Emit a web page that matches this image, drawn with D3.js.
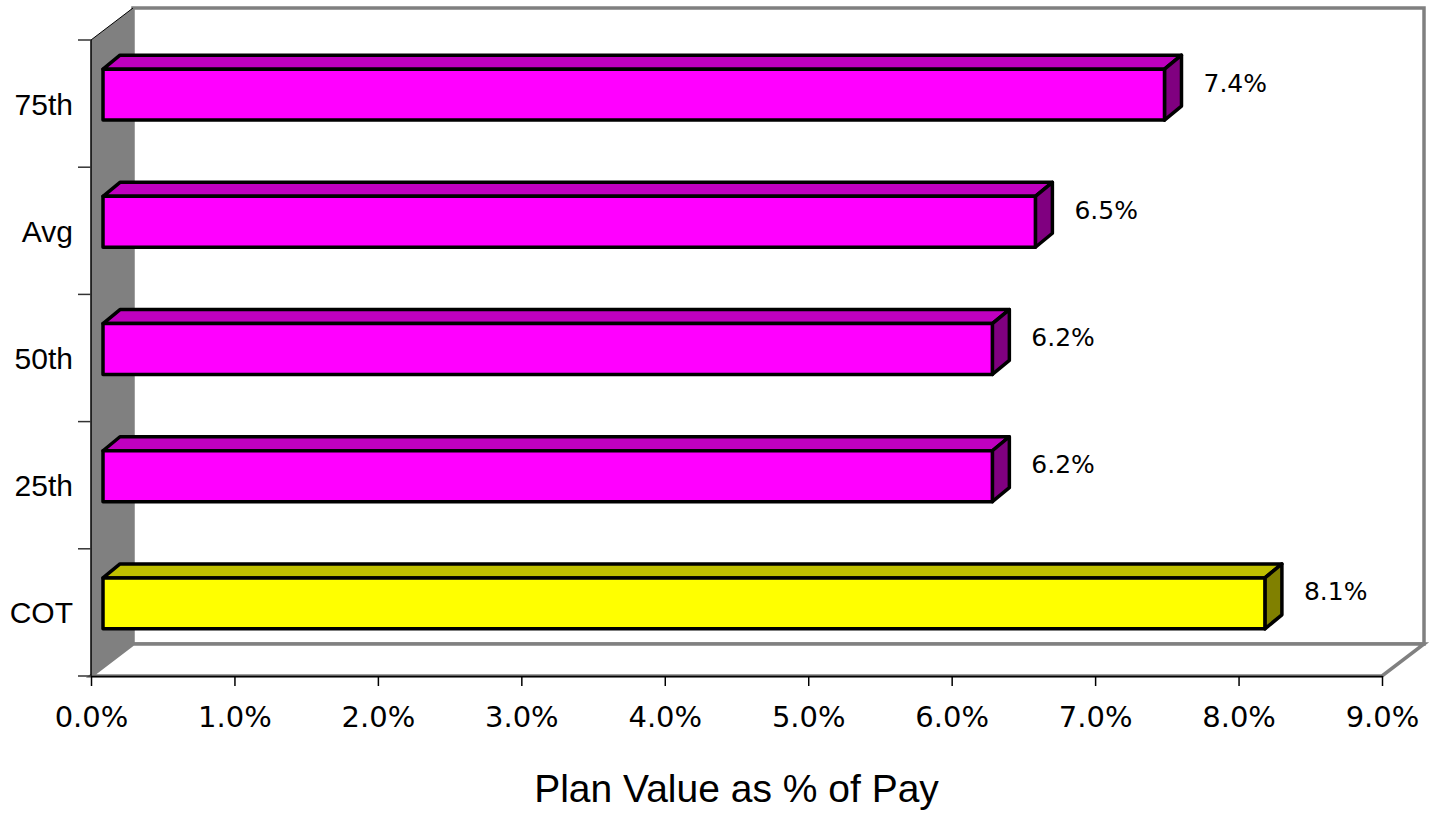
<!DOCTYPE html>
<html>
<head>
<meta charset="utf-8">
<script src="https://cdn.jsdelivr.net/npm/d3@7"></script>
<style>
  html, body { margin: 0; padding: 0; background: #ffffff; }
  svg { display: block; }
</style>
</head>
<body>
<svg id="chart" width="1430" height="815"></svg>
<script>
// Plan value as a percentage of pay, by peer-group statistic
const categories = ["75th", "Avg", "50th", "25th", "COT"];
const values = [7.4, 6.5, 6.2, 6.2, 8.1];
const barColors = ["magenta", "magenta", "magenta", "magenta", "yellow"];
const xTicks = [0, 1, 2, 3, 4, 5, 6, 7, 8, 9];
const xTitle = "Plan Value as % of Pay";

// face shades for each base colour: front, top, side
const shades = {
  magenta: { front: "#ff00ff", top: "#bf00bf", side: "#800080" },
  yellow:  { front: "#ffff00", top: "#bfbf00", side: "#808000" }
};

const svg = d3.select("#chart");

// front plane of the 3-D box
const plotLeft = 91, plotRight = 1382, plotTop = 40, plotBottom = 676;
// depth of the box (receding up and to the right)
const depth = { dx: 42, dy: -32 };
// bars sit partway into the box and have their own depth
const barShift = { dx: 12, dy: -9 };
const barDepth = { dx: 17, dy: -14 };

const x = d3.scaleLinear().domain([0, 9]).range([plotLeft, plotRight]);
const y = d3.scaleBand().domain(categories).range([plotTop, plotBottom])
  .paddingInner(0.6).paddingOuter(0.3);
const yb = d3.scaleBand().domain(categories).range([plotTop, plotBottom]).padding(0);

const wallGrey = "#808080";

// back wall
svg.append("rect")
  .attr("x", plotLeft + depth.dx).attr("y", plotTop + depth.dy)
  .attr("width", plotRight - plotLeft).attr("height", plotBottom - plotTop)
  .attr("fill", "#ffffff").attr("stroke", wallGrey).attr("stroke-width", 3.5);

// floor
const floorPts = [
  [plotLeft, plotBottom], [plotLeft + depth.dx, plotBottom + depth.dy],
  [plotRight + depth.dx, plotBottom + depth.dy], [plotRight, plotBottom]
];
svg.append("path")
  .attr("d", d3.line()(floorPts) + "Z")
  .attr("fill", "#ffffff").attr("stroke", wallGrey).attr("stroke-width", 3.5)
  .attr("stroke-linejoin", "miter");

// side wall (left)
const wallPts = [
  [plotLeft, plotTop], [plotLeft + depth.dx, plotTop + depth.dy],
  [plotLeft + depth.dx, plotBottom + depth.dy], [plotLeft, plotBottom]
];
svg.append("path")
  .attr("d", d3.line()(wallPts) + "Z")
  .attr("fill", wallGrey).attr("stroke", "none");
svg.append("line")
  .attr("x1", plotLeft).attr("y1", plotTop)
  .attr("x2", plotLeft + depth.dx).attr("y2", plotTop + depth.dy)
  .attr("stroke", "#000").attr("stroke-width", 1);

// bars
const bars = svg.append("g").attr("class", "bars");
categories.forEach((c, i) => {
  const s = shades[barColors[i]];
  const x0 = x(0) + barShift.dx;
  const x1 = x(values[i]) + barShift.dx;
  const y0 = y(c) + barShift.dy;
  const y1 = y0 + y.bandwidth();
  const dx = barDepth.dx, dy = barDepth.dy;
  const g = bars.append("g");
  const style = sel => sel.attr("stroke", "#000").attr("stroke-width", 3.5)
    .attr("stroke-linejoin", "round");
  g.append("path")
    .attr("d", d3.line()([[x0, y0], [x0 + dx, y0 + dy], [x1 + dx, y0 + dy], [x1, y0]]) + "Z")
    .attr("fill", s.top).call(style);
  g.append("path")
    .attr("d", d3.line()([[x1, y0], [x1 + dx, y0 + dy], [x1 + dx, y1 + dy], [x1, y1]]) + "Z")
    .attr("fill", s.side).call(style);
  g.append("rect")
    .attr("x", x0).attr("y", y0).attr("width", x1 - x0).attr("height", y1 - y0)
    .attr("fill", s.front).call(style);

  // value label
  g.append("text")
    .attr("x", x1 + dx + 22)
    .attr("y", (y0 + y1) / 2 + dy / 2 - 3)
    .attr("dominant-baseline", "middle")
    .attr("font-family", "DejaVu Sans, Verdana, sans-serif")
    .attr("font-size", 25)
    .attr("fill", "#000")
    .text(d3.format(".1f")(values[i]) + "%");
});

// x axis
const xAxis = svg.append("g").attr("transform", `translate(0,${plotBottom})`)
  .call(d3.axisBottom(x).tickValues(xTicks).tickSize(10).tickSizeOuter(0)
    .tickFormat(d => d3.format(".1f")(d) + "%"));
xAxis.select(".domain").attr("stroke", "#000").attr("stroke-width", 1.5);
xAxis.selectAll(".tick line").attr("stroke", "#000").attr("stroke-width", 1.5);
xAxis.selectAll(".tick text")
  .attr("y", 51).attr("dy", 0)
  .attr("font-family", "DejaVu Sans, Verdana, sans-serif")
  .attr("font-size", 29).attr("fill", "#000");

// y axis: line along the wall front edge with ticks at band boundaries
svg.append("line")
  .attr("x1", plotLeft).attr("y1", plotTop).attr("x2", plotLeft).attr("y2", plotBottom)
  .attr("stroke", "#000").attr("stroke-width", 1.5);
const boundaries = categories.map(c => yb(c)).concat([plotBottom]);
svg.append("g").selectAll("line").data(boundaries).join("line")
  .attr("x1", plotLeft - 13).attr("x2", plotLeft)
  .attr("y1", d => d).attr("y2", d => d)
  .attr("stroke", "#333").attr("stroke-width", 1.5);
svg.append("g").selectAll("text").data(categories).join("text")
  .attr("x", 73)
  .attr("y", c => yb(c) + yb.bandwidth() / 2 + 11)
  .attr("text-anchor", "end")
  .attr("font-family", "Liberation Sans, Arial, sans-serif")
  .attr("font-size", 30)
  .attr("fill", "#000")
  .text(c => c);

// axis title
svg.append("text")
  .attr("x", (plotLeft + plotRight) / 2)
  .attr("y", 802)
  .attr("text-anchor", "middle")
  .attr("font-family", "Liberation Sans, Arial, sans-serif")
  .attr("font-size", 39)
  .attr("fill", "#000")
  .text(xTitle);
</script>
</body>
</html>
